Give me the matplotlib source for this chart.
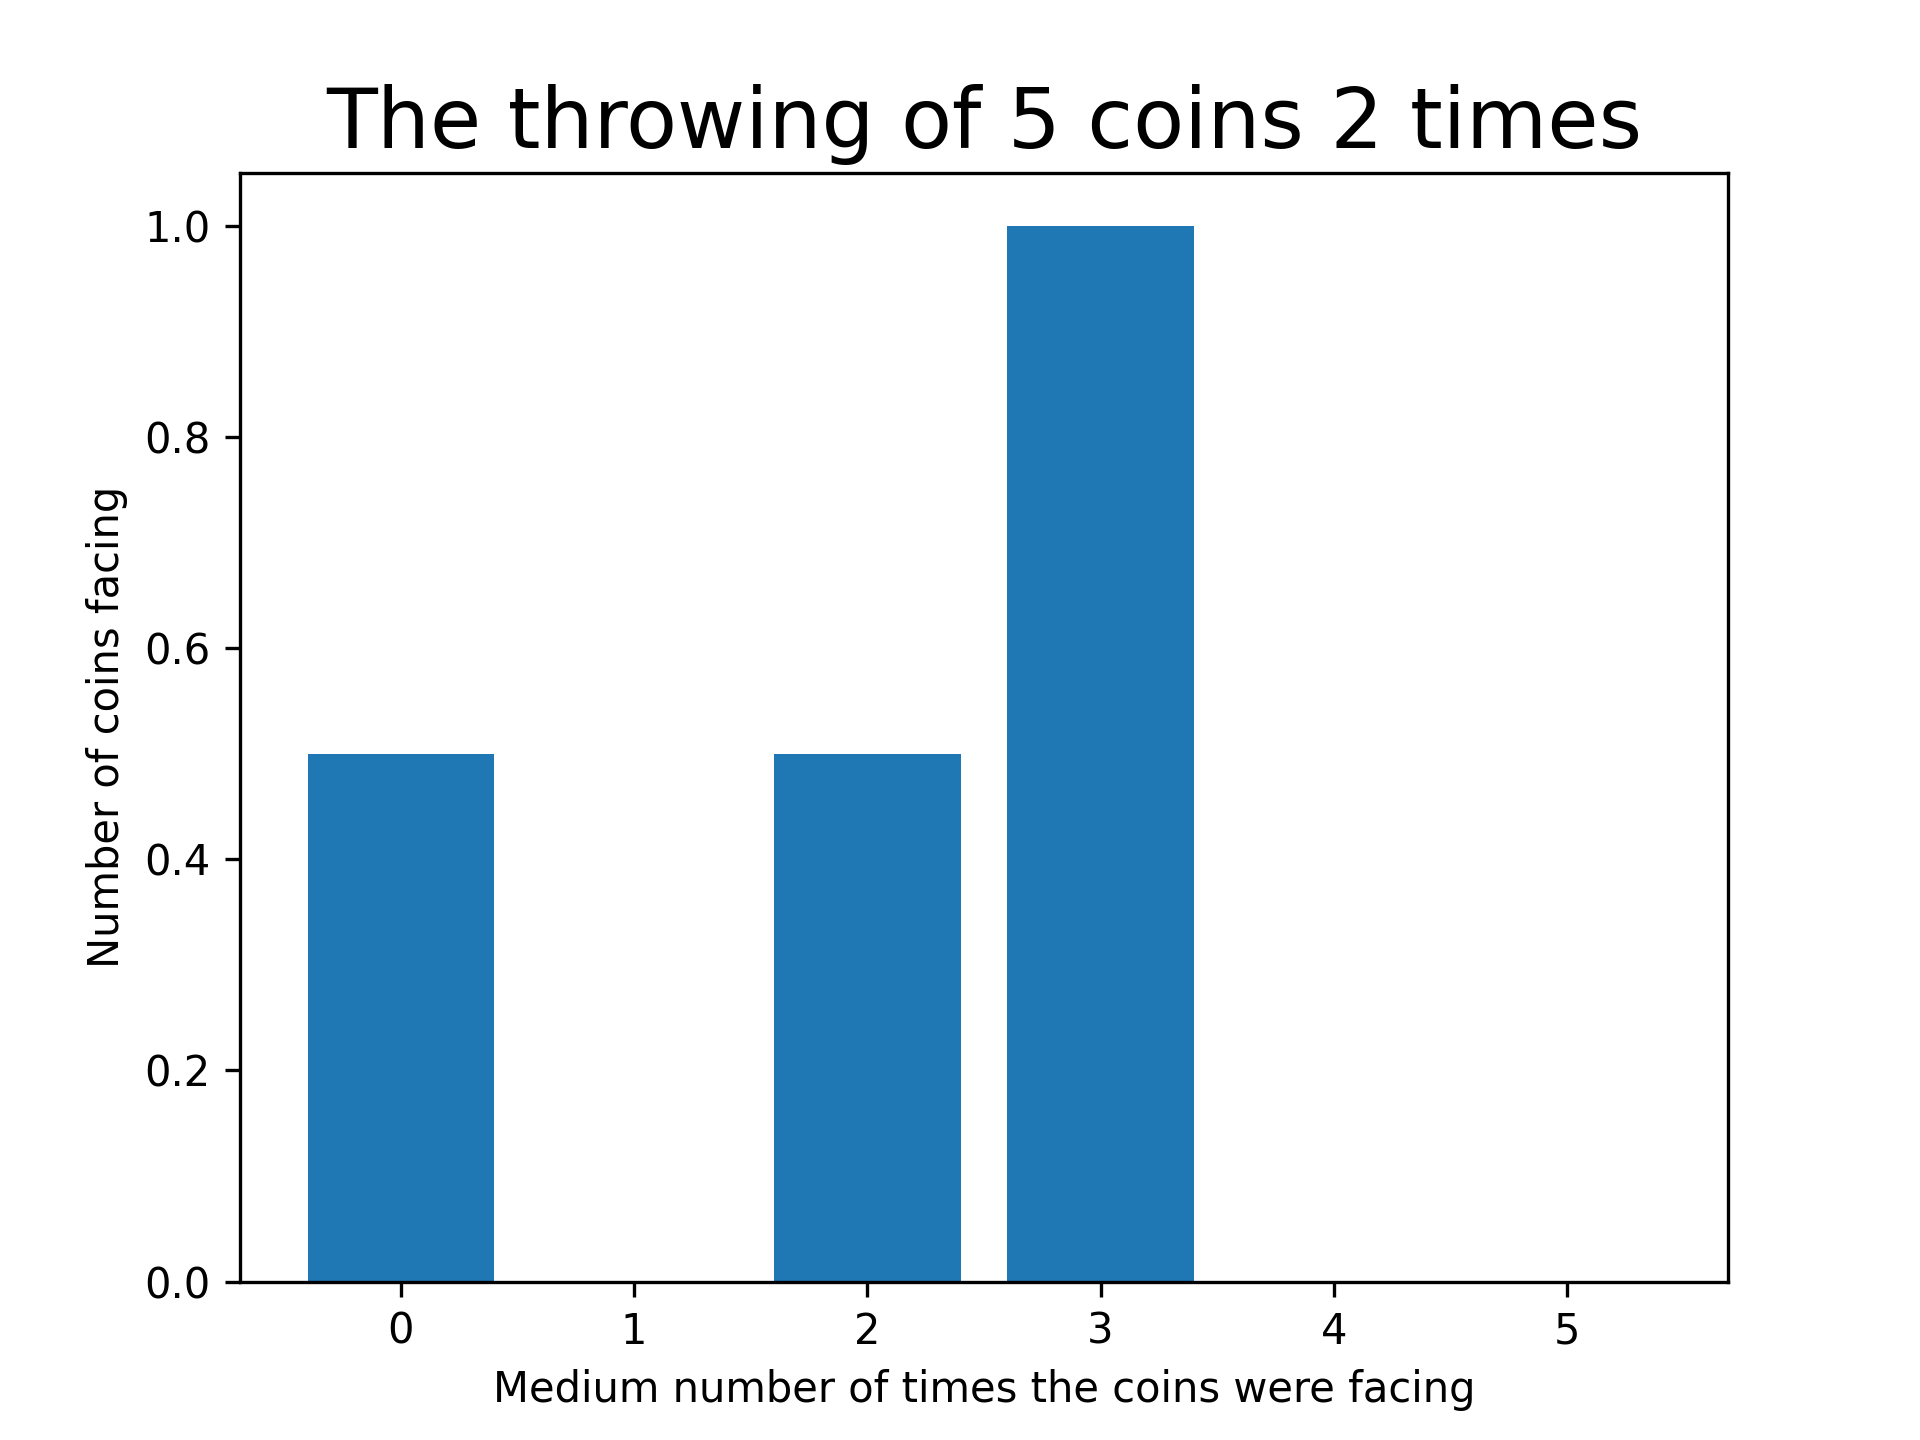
import matplotlib
matplotlib.use("Agg")
import matplotlib.pyplot as plt

faces = [0, 1, 2, 3, 4, 5]
counts = [0.5, 0, 0.5, 1.0, 0, 0]

fig, ax = plt.subplots(figsize=(6.4, 4.8), dpi=300)
ax.bar(faces, counts)
ax.set_title("The throwing of 5 coins 2 times", fontsize=20)
ax.set_xlabel("Medium number of times the coins were facing")
ax.set_ylabel("Number of coins facing")
fig.savefig("out.png")
